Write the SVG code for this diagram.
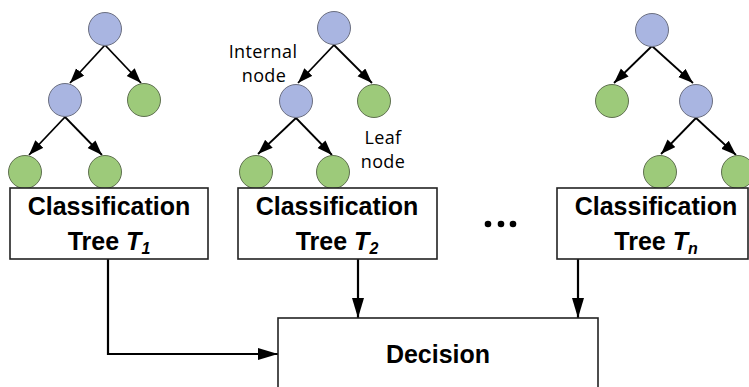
<svg xmlns="http://www.w3.org/2000/svg" width="749" height="387" viewBox="0 0 749 387">
<defs>
<style>
.int{fill:#a9b5e1;stroke:#6b6f80;stroke-width:1}
.leaf{fill:#9dca7a;stroke:#5f7050;stroke-width:1}
.edge{stroke:#000;stroke-width:1.8;fill:none;marker-end:url(#ah)}
.conn{stroke:#000;stroke-width:2.2;fill:none;marker-end:url(#big)}
.box{fill:#fff;stroke:#222;stroke-width:1.6}
.bt{font-family:"Liberation Sans",Arial,sans-serif;font-weight:bold;font-size:25px;fill:#000;text-anchor:middle}
.lbl{font-family:"Open Sans","Liberation Sans",sans-serif;font-size:18px;fill:#000;text-anchor:middle;letter-spacing:0.4px}
</style>
<marker id="ah" markerUnits="userSpaceOnUse" markerWidth="16" markerHeight="12" refX="15" refY="5.5" orient="auto"><path d="M0,0 L15,5.5 L0,11 z" fill="#000"/></marker>
<marker id="big" markerUnits="userSpaceOnUse" markerWidth="21" markerHeight="13" refX="20" refY="6" orient="auto"><path d="M0,0 L20,6 L0,12 z" fill="#000"/></marker>
</defs>
<rect width="749" height="387" fill="#fff"/>
<g id="connectors">
<path class="edge" d="M105,45 L70,83"/>
<path class="edge" d="M105,45 L141,83"/>
<path class="edge" d="M65,117 L29,155"/>
<path class="edge" d="M65,117 L102,155"/>
<path class="edge" d="M334,45 L298,83"/>
<path class="edge" d="M334,45 L372,83"/>
<path class="edge" d="M296,118 L258,154"/>
<path class="edge" d="M296,118 L332,155"/>
<path class="edge" d="M652,46 L614,83"/>
<path class="edge" d="M652,46 L693,83"/>
<path class="edge" d="M696,118 L661,154"/>
<path class="edge" d="M696,118 L736,155"/>
<path class="conn" d="M108,259 L108,354 L278,354"/>
<path class="conn" d="M358,259 L358,318"/>
<path class="conn" d="M578,259 L578,318"/>
</g>
<g id="tree1">
<circle class="int" cx="105" cy="29" r="16.5"/>
<circle class="int" cx="65" cy="100" r="16.5"/>
<circle class="leaf" cx="144" cy="100" r="16.5"/>
<circle class="leaf" cx="25" cy="172" r="16.5"/>
<circle class="leaf" cx="105" cy="172" r="16.5"/>
</g>
<g id="tree2">
<circle class="int" cx="334" cy="28" r="16.5"/>
<circle class="int" cx="296" cy="101" r="16.5"/>
<circle class="leaf" cx="374" cy="101" r="16.5"/>
<circle class="leaf" cx="256" cy="172" r="16.5"/>
<circle class="leaf" cx="333" cy="172" r="16.5"/>
</g>
<g id="treen">
<circle class="int" cx="652" cy="30" r="16.5"/>
<circle class="leaf" cx="612" cy="101" r="16.5"/>
<circle class="int" cx="696" cy="101" r="16.5"/>
<circle class="leaf" cx="660" cy="172" r="16.5"/>
<circle class="leaf" cx="738" cy="172" r="16.5"/>
</g>
<g id="label-internal">
<text class="lbl" x="263" y="58">Internal</text>
<text class="lbl" x="264" y="82">node</text>
</g>
<g id="label-leaf">
<text class="lbl" x="383" y="144">Leaf</text>
<text class="lbl" x="383" y="168">node</text>
</g>
<g id="box1">
<rect class="box" x="10" y="188" width="198" height="71"/>
<text class="bt" x="109" y="215">Classification</text>
<text class="bt" x="109" y="250">Tree <tspan font-style="italic">T</tspan><tspan font-style="italic" font-size="16" dy="4">1</tspan></text>
</g>
<g id="box2">
<rect class="box" x="238" y="188" width="199" height="71"/>
<text class="bt" x="337" y="215">Classification</text>
<text class="bt" x="337" y="250">Tree <tspan font-style="italic">T</tspan><tspan font-style="italic" font-size="16" dy="4">2</tspan></text>
</g>
<g id="ellipsis">
<circle cx="488" cy="224" r="3.3" fill="#000"/>
<circle cx="501" cy="224" r="3.3" fill="#000"/>
<circle cx="513" cy="224" r="3.3" fill="#000"/>
</g>
<g id="boxn">
<rect class="box" x="557" y="188" width="191" height="71"/>
<text class="bt" x="656" y="215">Classification</text>
<text class="bt" x="656" y="250">Tree <tspan font-style="italic">T</tspan><tspan font-style="italic" font-size="16" dy="4">n</tspan></text>
</g>
<g id="decision">
<rect class="box" x="278" y="318" width="320" height="90"/>
<text class="bt" x="438" y="363">Decision</text>
</g>
</svg>
